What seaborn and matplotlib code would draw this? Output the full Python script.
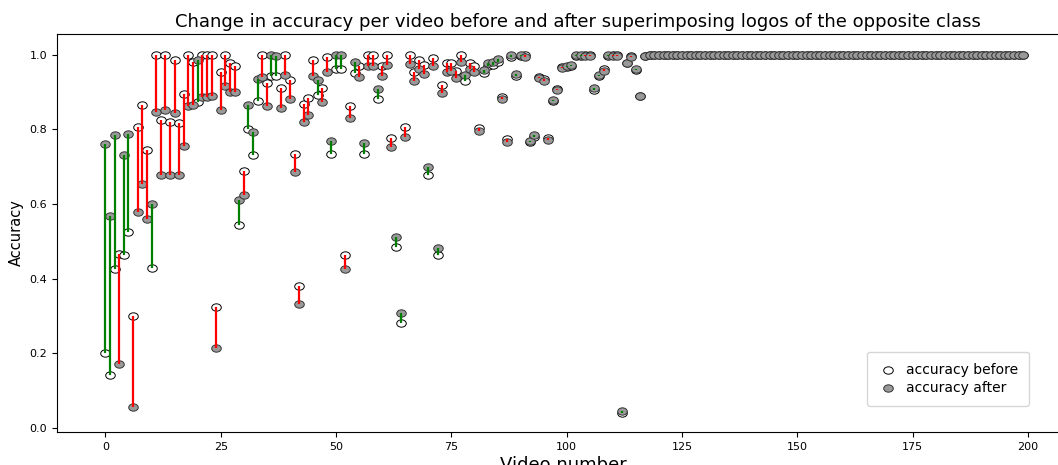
import matplotlib
matplotlib.use("Agg")
import matplotlib.pyplot as plt
from matplotlib.markers import MarkerStyle
from matplotlib.transforms import Affine2D
import numpy as np
import pandas as pd
import seaborn as sns

# Accuracy per video before and after the opposite-class logo is superimposed
acc_before = [
    0.200, 0.141, 0.426, 0.466, 0.463, 0.524, 0.300, 0.807, 0.865, 0.744,
    0.430, 1.000, 0.826, 1.000, 0.820, 0.985, 0.818, 0.895, 1.000, 0.981,
    0.873, 1.000, 1.000, 1.000, 0.323, 0.954, 1.000, 0.978, 0.970, 0.545,
    0.688, 0.802, 0.732, 0.876, 1.000, 0.924, 0.943, 0.943, 0.912, 1.000,
    0.934, 0.735, 0.381, 0.868, 0.885, 0.986, 0.893, 0.912, 0.993, 0.734,
    0.963, 0.963, 0.464, 0.862, 0.951, 0.971, 0.734, 1.000, 1.000, 0.881,
    0.971, 1.000, 0.778, 0.486, 0.281, 0.806, 1.000, 0.954, 0.987, 0.972,
    0.677, 0.991, 0.463, 0.919, 0.977, 0.979, 0.958, 1.000, 0.929, 0.977,
    0.969, 0.804, 0.951, 0.971, 0.972, 0.982, 0.888, 0.774, 0.995, 0.944,
    0.996, 0.999, 0.766, 0.780, 0.942, 0.935, 0.777, 0.876, 0.908, 0.968,
    0.967, 0.969, 0.998, 0.998, 1.000, 1.000, 0.907, 0.944, 0.961, 0.998,
    1.000, 1.000, 0.041, 0.977, 0.997, 0.960, 0.889, 0.996, 1.000, 1.000,
    1.000, 1.000, 1.000, 1.000, 1.000, 1.000, 1.000, 1.000, 1.000, 1.000,
    1.000, 1.000, 1.000, 1.000, 1.000, 1.000, 1.000, 1.000, 1.000, 1.000,
    1.000, 1.000, 1.000, 1.000, 1.000, 1.000, 1.000, 1.000, 1.000, 1.000,
    1.000, 1.000, 1.000, 1.000, 1.000, 1.000, 1.000, 1.000, 1.000, 1.000,
    1.000, 1.000, 1.000, 1.000, 1.000, 1.000, 1.000, 1.000, 1.000, 1.000,
    1.000, 1.000, 1.000, 1.000, 1.000, 1.000, 1.000, 1.000, 1.000, 1.000,
    1.000, 1.000, 1.000, 1.000, 1.000, 1.000, 1.000, 1.000, 1.000, 1.000,
    1.000, 1.000, 1.000, 1.000, 1.000, 1.000, 1.000, 1.000, 1.000, 1.000,
]

acc_after = [
    0.760, 0.567, 0.786, 0.170, 0.731, 0.789, 0.056, 0.578, 0.654, 0.561,
    0.601, 0.847, 0.677, 0.853, 0.677, 0.845, 0.679, 0.757, 0.862, 0.865,
    0.987, 0.886, 0.888, 0.891, 0.214, 0.851, 0.917, 0.900, 0.900, 0.610,
    0.624, 0.866, 0.792, 0.935, 0.940, 0.864, 1.000, 0.998, 0.858, 0.947,
    0.882, 0.685, 0.332, 0.821, 0.838, 0.944, 0.934, 0.873, 0.954, 0.770,
    1.000, 1.000, 0.426, 0.830, 0.982, 0.940, 0.763, 0.971, 0.971, 0.908,
    0.943, 0.974, 0.752, 0.511, 0.307, 0.780, 0.976, 0.931, 0.963, 0.948,
    0.700, 0.969, 0.483, 0.897, 0.955, 0.958, 0.937, 0.982, 0.945, 0.962,
    0.955, 0.795, 0.960, 0.979, 0.980, 0.989, 0.882, 0.767, 0.999, 0.949,
    0.999, 0.995, 0.770, 0.784, 0.937, 0.930, 0.773, 0.878, 0.905, 0.966,
    0.970, 0.972, 1.000, 1.000, 0.998, 0.998, 0.910, 0.947, 0.958, 1.000,
    0.998, 0.998, 0.044, 0.979, 0.995, 0.962, 0.889, 0.996, 1.000, 1.000,
    1.000, 1.000, 1.000, 1.000, 1.000, 1.000, 1.000, 1.000, 1.000, 1.000,
    1.000, 1.000, 1.000, 1.000, 1.000, 1.000, 1.000, 1.000, 1.000, 1.000,
    1.000, 1.000, 1.000, 1.000, 1.000, 1.000, 1.000, 1.000, 1.000, 1.000,
    1.000, 1.000, 1.000, 1.000, 1.000, 1.000, 1.000, 1.000, 1.000, 1.000,
    1.000, 1.000, 1.000, 1.000, 1.000, 1.000, 1.000, 1.000, 1.000, 1.000,
    1.000, 1.000, 1.000, 1.000, 1.000, 1.000, 1.000, 1.000, 1.000, 1.000,
    1.000, 1.000, 1.000, 1.000, 1.000, 1.000, 1.000, 1.000, 1.000, 1.000,
    1.000, 1.000, 1.000, 1.000, 1.000, 1.000, 1.000, 1.000, 1.000, 1.000,
]

video_ids = list(range(len(acc_before)))
x_ticks = [0, 25, 50, 75, 100, 125, 150, 175, 200]
y_ticks = [0.0, 0.2, 0.4, 0.6, 0.8, 1.0]

df = pd.DataFrame({"video": video_ids, "before": acc_before, "after": acc_after})

plt.rcParams["font.family"] = ["DejaVu Sans"]

fig = plt.figure(figsize=(10.58, 4.65), dpi=100)
ax = fig.add_axes([57 / 1058, 33 / 465, 1012 / 1058, 398 / 465])

# slightly widened circle markers
oval = MarkerStyle("o", transform=Affine2D().scale(1.3, 1.0))

sns.scatterplot(data=df, x="video", y="before", ax=ax, marker=oval, s=28,
                facecolor="white", edgecolor="black", linewidth=0.7,
                label="accuracy before", zorder=2)
sns.scatterplot(data=df, x="video", y="after", ax=ax, marker=oval, s=28,
                facecolor="#999999", edgecolor="#333333", linewidth=0.7,
                label="accuracy after", zorder=3)

# connect each pair: green where accuracy rose, red where it dropped
b = df["before"].to_numpy()
a = df["after"].to_numpy()
changed = a != b
line_colors = np.where(a[changed] > b[changed], "green", "red")
ax.vlines(df["video"][changed], b[changed], a[changed], colors=line_colors,
          linewidth=1.6, zorder=4)

ax.set_xlim(-10.5, 208.9)
ax.set_ylim(-0.011, 1.056)
ax.spines["right"].set_visible(False)
ax.set_xticks(x_ticks)
ax.set_yticks(y_ticks)
ax.set_yticklabels([f"{v:.1f}" for v in y_ticks])
ax.tick_params(labelsize=8)
ax.set_xlabel("Video number", fontsize=13, labelpad=3)
ax.set_ylabel("Accuracy", fontsize=10.5)
ax.set_title("Change in accuracy per video before and after superimposing "
             "logos of the opposite class", fontsize=13, x=0.515, pad=5)

ax.legend(loc="lower right", bbox_to_anchor=(0.9605, 0.0653), borderaxespad=0,
          fontsize=10, borderpad=0.8, handletextpad=0.5, handlelength=1.5,
          labelspacing=0.3)

fig.savefig("out.png", dpi=100)
